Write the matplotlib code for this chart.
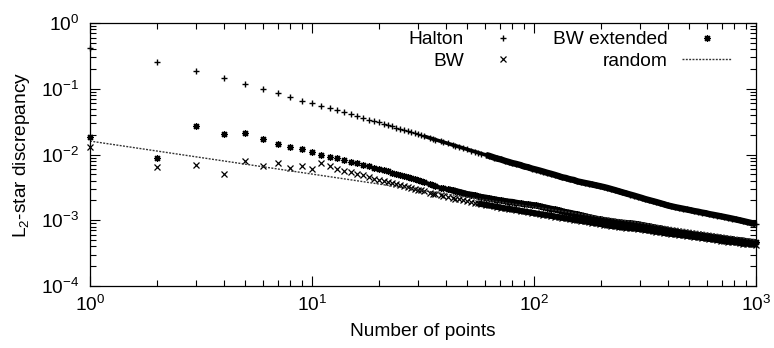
import matplotlib
matplotlib.use('Agg')
import matplotlib.pyplot as plt
from matplotlib.ticker import LogLocator, LogFormatterMathtext, NullFormatter

plt.rcParams['font.family'] = ['Liberation Sans', 'DejaVu Sans']
plt.rcParams['mathtext.fontset'] = 'custom'
plt.rcParams['mathtext.rm'] = 'Liberation Sans'

# number of points: every n up to 29, then a close log-spaced grid up to 1000
n_small = [1, 2, 3, 4, 5, 6, 7, 8, 9, 10, 11, 12, 13, 14, 15, 16, 17, 18, 19, 20,
           21, 22, 23, 24, 25, 26, 27, 28, 29]
n_dense = [30, 31, 32, 34, 35, 36, 38, 39, 41, 43,
           44, 46, 48, 50, 52, 54, 56, 58, 61, 63,
           66, 68, 71, 74, 77, 80, 83, 87, 90, 94,
           98, 102, 106, 110, 114, 119, 124, 129, 134, 139,
           145, 151, 157, 163, 169, 176, 183, 190, 198, 206,
           214, 223, 232, 241, 250, 260, 271, 282, 293, 305,
           317, 329, 342, 356, 370, 385, 400, 416, 433, 450,
           468, 487, 507, 527, 548, 570, 593, 616, 641, 667,
           693, 721, 750, 780, 811, 843, 877, 912, 949, 975,
           1000]
n_points = n_small + n_dense

halton = [0.41, 0.255, 0.186, 0.145, 0.12, 0.099, 0.086, 0.075, 0.066, 0.060,
          0.055, 0.051, 0.047, 0.044, 0.041, 0.0385, 0.036, 0.034, 0.0325, 0.031,
          0.0295, 0.0281, 0.0268, 0.0257, 0.0246, 0.0236, 0.0227, 0.0219, 0.0211,
          0.0203, 0.0197, 0.019, 0.0178, 0.0173, 0.0168, 0.0159, 0.0155, 0.0147, 0.014,
          0.0137, 0.0131, 0.0125, 0.0120, 0.0115, 0.0111, 0.0107, 0.0103, 0.0098, 0.0095,
          0.0090, 0.0087, 0.0084, 0.0080, 0.0077, 0.0074, 0.0072, 0.0069, 0.0066, 0.0064,
          0.0061, 0.0059, 0.0057, 0.0055, 0.0053, 0.0051, 0.0049, 0.0047, 0.0045, 0.0044,
          0.0042, 0.0041, 0.0039, 0.0038, 0.0037, 0.0036, 0.0035, 0.0034, 0.0033, 0.0032,
          0.0031, 0.00298, 0.00287, 0.00276, 0.00266, 0.00256, 0.00246, 0.00237, 0.00228, 0.00219,
          0.0021, 0.00203, 0.00196, 0.00189, 0.00182, 0.00175, 0.00168, 0.00163, 0.00158, 0.00154,
          0.00150, 0.00146, 0.00142, 0.00138, 0.00135, 0.00131, 0.00128, 0.00124, 0.00121, 0.00118,
          0.00115, 0.00112, 0.00109, 0.00106, 0.00103, 0.00100, 0.00097, 0.00094, 0.00091, 0.00089,
          0.00087]

bw = [0.0129, 0.0064, 0.0069, 0.0051, 0.0080, 0.0066, 0.0073, 0.0062, 0.0068, 0.0060,
      0.0073, 0.0066, 0.0061, 0.0057, 0.0054, 0.0051, 0.0048, 0.0045, 0.0043, 0.0041,
      0.0039, 0.0038, 0.0037, 0.0036, 0.0034, 0.0033, 0.0032, 0.0031, 0.0030,
      0.0029, 0.00285, 0.0028, 0.0026, 0.00255, 0.0025, 0.0024, 0.00235, 0.00226, 0.00218,
      0.00214, 0.00207, 0.0020, 0.00195, 0.0019, 0.00186, 0.0018, 0.00176, 0.00171, 0.00168,
      0.00163, 0.0016, 0.00156, 0.00152, 0.00149, 0.00146, 0.00143, 0.00139, 0.00136, 0.00133,
      0.0013, 0.00127, 0.00124, 0.00122, 0.0012, 0.00117, 0.00114, 0.00112, 0.00109, 0.00107,
      0.00104, 0.00102, 0.0010, 0.00098, 0.00096, 0.00094, 0.00092, 0.0009, 0.00088, 0.00086,
      0.00084, 0.00082, 0.00081, 0.00079, 0.00078, 0.00077, 0.00076, 0.00075, 0.00074, 0.00073,
      0.00071, 0.0007, 0.00068, 0.00067, 0.00066, 0.00064, 0.00063, 0.00062, 0.00061, 0.0006,
      0.00059, 0.00058, 0.00057, 0.00056, 0.00055, 0.00054, 0.00053, 0.00052, 0.00051, 0.0005,
      0.00049, 0.00048, 0.00047, 0.00047, 0.00046, 0.00045, 0.00044, 0.00044, 0.00043, 0.00043,
      0.00042]

bw_ext = [0.0184, 0.0087, 0.027, 0.0202, 0.021, 0.017, 0.0143, 0.0128, 0.012, 0.0108,
          0.0100, 0.0092, 0.0087, 0.0082, 0.0077, 0.0073, 0.0069, 0.0066, 0.0063, 0.0060,
          0.0058, 0.0056, 0.0053, 0.0051, 0.0049, 0.0047, 0.0046, 0.0044, 0.0042,
          0.0041, 0.0039, 0.0038, 0.0035, 0.0034, 0.0033, 0.0031, 0.00305, 0.00295, 0.00285,
          0.0028, 0.0027, 0.0026, 0.0025, 0.00245, 0.0024, 0.0023, 0.00226, 0.0022, 0.00215,
          0.00209, 0.00205, 0.0020, 0.00196, 0.00192, 0.0019, 0.00185, 0.0018, 0.00177, 0.00174,
          0.00171, 0.00168, 0.00163, 0.00159, 0.00155, 0.0015, 0.00146, 0.00142, 0.00137, 0.00133,
          0.0013, 0.00126, 0.00123, 0.00119, 0.00116, 0.00112, 0.00109, 0.00106, 0.00103, 0.00101,
          0.00099, 0.00097, 0.00095, 0.00093, 0.00092, 0.00091, 0.0009, 0.00089, 0.00087, 0.00085,
          0.00083, 0.00081, 0.00079, 0.00077, 0.00075, 0.00073, 0.00071, 0.00069, 0.00068, 0.00066,
          0.00065, 0.00064, 0.00062, 0.00061, 0.0006, 0.00059, 0.00058, 0.00057, 0.00056, 0.00055,
          0.00054, 0.00053, 0.00052, 0.00051, 0.0005, 0.0005, 0.00049, 0.00048, 0.00047, 0.00047,
          0.00046]

random_n = [1, 1000]
random_disc = [0.016, 0.0005]

fig = plt.figure(figsize=(7.74, 3.48), dpi=100)
ax = fig.add_axes([90/774, 1-286/348, 666/774, 263/348])

# where the markers pile up they read as a solid black band
def band(ys, start, lw):
    xs = [n for n in n_points if n >= start]
    ax.plot(xs, ys[len(n_points) - len(xs):], color='black', lw=lw,
            solid_capstyle='butt', zorder=1.5)

band(halton, 32, 2.6)
band(halton, 60, 4.6)
band(bw_ext, 24, 3.0)
band(bw_ext, 40, 4.4)
band(bw, 56, 4.4)

ax.plot(n_points, halton, ls='none', marker='+', ms=5, mew=1.0, color='black',
        clip_on=False, label='Halton')
ax.plot(n_points, bw, ls='none', marker='x', ms=4.2, mew=0.9, color='black',
        clip_on=False, label='BW')
ax.plot(n_points, bw_ext, ls='none', marker=(8, 2, 0), ms=5, mew=0.9, color='black',
        clip_on=False, label='BW extended')
ax.plot(random_n, random_disc, ls=(0, (1.4, 1.0)), lw=1.0, color='#333333', label='random')

ax.set_xscale('log')
ax.set_yscale('log')
ax.set_xlim(1, 1000)
ax.set_ylim(1e-4, 1)

for a in (ax.xaxis, ax.yaxis):
    a.set_major_locator(LogLocator(base=10))
    a.set_major_formatter(LogFormatterMathtext())
    a.set_minor_locator(LogLocator(base=10, subs=range(2, 10)))
    a.set_minor_formatter(NullFormatter())

ax.tick_params(which='both', direction='in', top=True, right=True, width=0.8)
ax.tick_params(which='major', length=7)
ax.tick_params(which='minor', length=4)
ax.tick_params(axis='x', pad=6.5, labelsize=13.8)
ax.tick_params(axis='y', pad=8, labelsize=13.8)
for s in ax.spines.values():
    s.set_linewidth(0.9)

ax.set_xlabel('Number of points', fontsize=13.8, labelpad=6)
ax.set_ylabel(r'$\mathregular{L_2}$-star discrepancy', fontsize=13.8, labelpad=6)

ax.legend(ncol=2, markerfirst=False, frameon=False, fontsize=13.8,
          loc='upper right', bbox_to_anchor=(0.964, 0.97), borderaxespad=0,
          borderpad=0, handlelength=2.6, handletextpad=0.75, columnspacing=1.3,
          labelspacing=0.2)

fig.savefig('out.png', dpi=100)
